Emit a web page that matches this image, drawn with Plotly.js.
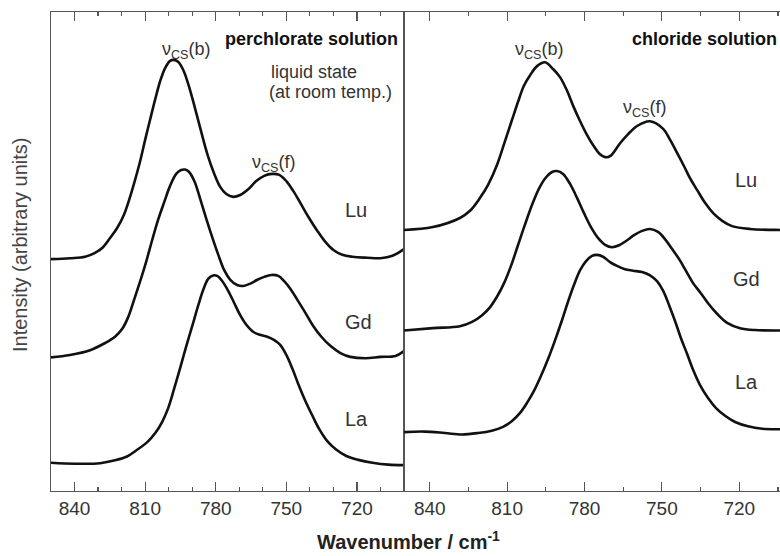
<!DOCTYPE html>
<html>
<head>
<meta charset="utf-8">
<script src="https://cdn.plot.ly/plotly-3.0.1.min.js"></script>
<style>html,body{margin:0;padding:0;background:#fff;}#chart{width:780px;height:556px;}</style>
</head>
<body>
<div id="chart"></div>
<script>
// ---- Perchlorate solution (left panel) ----
const wnPerLu  = [850,841.9,835.5,831.3,827.9,824.9,821.9,818.9,816.4,814.3,812.1,810.0,807.9,805.7,803.6,801.5,799.4,797.7,796.0,793.8,791.7,789.6,786.6,783.6,780.6,778.1,775.5,772.6,769.6,766.2,762.8,759.4,756.0,753.0,750.0,747.0,744.0,740.6,736.8,733.4,730.0,726.2,721.9,715.5,710.0,704.9,700];
const intPerLu = [48.4,48.6,48.9,49.7,50.9,52.8,54.9,57.8,61.4,64.9,68.9,73.3,77.5,81.8,85.6,88.3,89.8,90.0,89.6,87.9,85.0,81.4,75.8,70.4,66.2,63.5,62.0,61.4,61.8,63.0,64.7,65.8,66.2,66.0,64.7,62.6,60.1,57.2,54.3,52.0,50.3,49.3,48.9,48.7,48.6,49.1,50.5];

const wnPerGd  = [850,841.9,833.4,827.0,822.8,819.8,817.2,814.7,812.1,809.6,807.0,804.5,801.9,799.4,796.8,794.7,793.0,791.3,789.1,786.6,784.0,781.5,778.9,776.4,773.8,770.9,768.3,765.3,762.3,759.4,756.4,753.4,750.9,748.3,745.3,741.9,738.5,735.1,731.3,727.0,722.8,716.4,710.0,703.6,700];
const intPerGd = [27.9,28.4,29.4,30.9,32.2,33.8,36.3,39.9,43.8,47.8,52.4,56.6,60.3,63.7,66.2,67.0,67.1,66.6,64.7,61.0,56.8,53.0,49.3,46.1,44.1,43.0,42.8,43.3,44.1,44.7,45.1,44.9,43.8,42.2,39.9,37.2,34.4,32.2,30.3,28.8,28.0,27.7,28.0,28.2,29.2];

const wnPerLa  = [850,839.8,829.1,822.8,817.7,813.4,809.1,805.7,802.8,800.2,797.7,795.1,792.6,790.0,787.4,785.3,783.2,781.1,779.4,777.2,774.7,772.1,769.6,767.0,764.0,761.1,758.1,755.1,752.6,750.0,747.4,744.9,741.9,738.9,736.0,732.6,728.7,724.5,719.4,713.4,706.6,700];
const intPerLa = [5.9,5.7,5.8,6.4,7.2,8.6,10.2,12.1,14.4,17.3,21.3,25.7,30.1,34.4,38.8,42.0,44.3,45.0,44.9,43.8,41.8,39.2,36.7,34.7,33.2,32.6,32.2,31.5,30.5,28.4,25.5,22.3,18.8,15.7,12.9,10.4,8.6,7.3,6.5,5.9,5.5,5.4];

// ---- Chloride solution (right panel) ----
const wnClLu  = [850,838.8,828.3,824.4,820.5,817.4,813.9,810.8,808.1,805.8,803.5,801.1,798.4,795.3,792.2,789.5,786.8,784.4,781.7,779.0,776.3,774.0,772.0,770.1,766.2,763.1,759.6,754.6,749.5,746.8,744.1,741.4,739.1,736.3,733.2,730.1,726.6,722.8,715.8,704.2,700];
const intClLu = [54.5,55.1,57.0,58.5,61.2,63.9,68.1,73.1,77.5,81.2,84.6,86.8,88.7,89.5,88.1,86.4,83.6,80.4,77.2,74.3,71.9,70.3,69.7,69.9,72.6,74.5,76.2,77.2,75.6,73.3,70.6,67.8,65.3,62.8,60.1,58.0,56.4,55.3,54.7,54.5,54.5];

const wnClGd  = [850,838.8,828.3,823.6,819.7,816.6,813.9,811.2,808.5,805.8,803.1,800.3,797.6,794.9,792.6,790.7,788.3,785.6,782.9,780.2,777.5,774.7,772.0,769.3,766.6,763.9,760.8,757.7,754.6,751.5,748.8,746.0,743.3,740.6,737.9,735.2,732.1,728.6,724.7,719.7,713.9,704.2,700];
const intClGd = [33.5,34.0,34.4,35.3,36.7,38.4,40.6,43.4,47.0,51.3,55.6,59.8,63.2,65.5,66.6,66.8,66.2,64.1,61.2,58.0,55.1,52.8,51.4,50.9,51.3,52.2,53.4,54.3,54.7,54.1,52.6,50.5,48.4,45.9,43.4,41.5,39.2,37.0,35.1,34.0,33.6,33.5,33.5];

const wnClLa  = [850,841.9,834.1,827.5,821.3,815.9,811.6,808.1,805.0,802.3,799.6,796.9,794.1,791.4,788.7,786.4,784.1,781.7,779.4,777.1,775.1,772.8,770.1,767.4,764.3,761.2,757.7,754.6,751.9,749.5,747.2,744.9,742.6,740.2,737.9,735.2,732.1,729.0,725.5,721.6,716.6,711.1,704.2,700];
const intClLa = [12.3,12.4,12.1,11.8,12.1,12.6,13.4,14.6,16.3,18.4,20.9,24.0,27.6,31.5,35.7,39.5,43.0,46.1,48.0,49.1,49.3,48.9,47.8,47.0,46.3,46.0,45.7,45.0,43.8,41.8,38.8,35.5,31.9,28.6,25.3,22.1,19.4,17.3,15.7,14.4,13.5,13.0,12.9,12.9];

const tickVals = [840, 810, 780, 750, 720];
const tickLabels = ['840', '810', '780', '750', '720'];
const sampleNames = ['Lu', 'Gd', 'La'];

const lineStyle = {color: '#111', width: 2.6, shape: 'spline', smoothing: 1};
function tr(x, y, xa, ya, name) {
  return {x: x, y: y, xaxis: xa, yaxis: ya, type: 'scatter', mode: 'lines', name: name,
          line: lineStyle, hoverinfo: 'x+y', showlegend: false};
}
const data = [
  tr(wnPerLu, intPerLu, 'x', 'y', 'Lu perchlorate'),
  tr(wnPerGd, intPerGd, 'x', 'y', 'Gd perchlorate'),
  tr(wnPerLa, intPerLa, 'x', 'y', 'La perchlorate'),
  tr(wnClLu, intClLu, 'x2', 'y2', 'Lu chloride'),
  tr(wnClGd, intClGd, 'x2', 'y2', 'Gd chloride'),
  tr(wnClLa, intClLa, 'x2', 'y2', 'La chloride')
];

const axisCol = '#555';
const tickFont = {family: 'Liberation Sans, Arial, sans-serif', size: 19, color: '#333'};
function xAxis(domain, range, minorStep, anchor) {
  return {
    domain: domain, range: range, anchor: anchor,
    showline: true, linecolor: axisCol, linewidth: 1.3, mirror: 'ticks',
    ticks: 'inside', ticklen: 9, tickwidth: 1.2, tickcolor: axisCol,
    tickvals: tickVals, ticktext: tickLabels, tickfont: tickFont,
    minor: {ticks: 'inside', dtick: minorStep, tick0: 0, ticklen: 4, tickwidth: 1.2, tickcolor: axisCol, showgrid: false},
    showgrid: false, zeroline: false, fixedrange: true
  };
}
const txtFont = {family: 'Liberation Sans, Arial, sans-serif', size: 20, color: '#333'};
const smallFont = {family: 'Liberation Sans, Arial, sans-serif', size: 18, color: '#333'};
const boldFont = {family: 'Liberation Sans, Arial, sans-serif', size: 18, color: '#111', weight: 'bold'};
const nuB = 'ν<sub>CS</sub>(b)';
const nuF = 'ν<sub>CS</sub>(f)';
function ann(text, xa, x, y, font, xanchor) {
  return {text: text, xref: xa, yref: xa === 'x' ? 'y' : 'y2', x: x, y: y, showarrow: false,
          font: font, xanchor: xanchor || 'center', yanchor: 'middle'};
}
const annotations = [
  ann('<b>perchlorate solution</b>', 'x', 701.5, 94.4, boldFont, 'right'),
  ann(nuB, 'x', 792.6, 92.0, smallFont),
  ann('liquid state', 'x', 757.2, 87.5, smallFont, 'left'),
  ann('(at room temp.)', 'x', 758.1, 83.3, smallFont, 'left'),
  ann(nuF, 'x', 755.1, 68.3, smallFont),
  ann(sampleNames[0], 'x', 720.6, 58.7, txtFont),
  ann(sampleNames[1], 'x', 719.4, 35.3, txtFont),
  ann(sampleNames[2], 'x', 720.2, 15.0, txtFont),
  ann('<b>chloride solution</b>', 'x2', 704.5, 94.4, boldFont, 'right'),
  ann(nuB, 'x2', 797.6, 91.9, smallFont),
  ann(nuF, 'x2', 756.5, 79.8, smallFont),
  ann(sampleNames[0], 'x2', 717.3, 64.9, txtFont),
  ann(sampleNames[1], 'x2', 717.3, 44.3, txtFont),
  ann(sampleNames[2], 'x2', 717.3, 22.8, txtFont),
  {text: 'Intensity (arbitrary units)', xref: 'paper', yref: 'paper', x: -0.0425, y: 0.5136,
   textangle: -90, showarrow: false, xanchor: 'center', yanchor: 'middle',
   font: {family: 'Liberation Sans, Arial, sans-serif', size: 20, color: '#444'}},
  {text: '<b>Wavenumber / cm<sup>-1</sup></b>', xref: 'paper', yref: 'paper', x: 0.491, y: -0.1023,
   showarrow: false, xanchor: 'center', yanchor: 'middle',
   font: {family: 'Liberation Sans, Arial, sans-serif', size: 20, color: '#222'}}
];

const yCommon = {range: [0, 100], showticklabels: false, ticks: '', showgrid: false, zeroline: false,
                 showline: true, linecolor: axisCol, linewidth: 1.3, fixedrange: true};
const layout = {
  width: 780, height: 556,
  margin: {l: 51, r: 0, t: 12, b: 65},
  paper_bgcolor: '#fff', plot_bgcolor: '#fff',
  showlegend: false,
  xaxis: xAxis([0, 0.4842], [850, 700], 10, 'y'),
  xaxis2: xAxis([0.4842, 1], [850, 704.2], 15, 'y2'),
  yaxis: Object.assign({}, yCommon, {domain: [0, 1], anchor: 'x', mirror: true}),
  yaxis2: Object.assign({}, yCommon, {domain: [0, 1], anchor: 'x2', mirror: false}),
  annotations: annotations
};
Plotly.newPlot('chart', data, layout, {displayModeBar: false, staticPlot: true});
</script>
</body>
</html>
